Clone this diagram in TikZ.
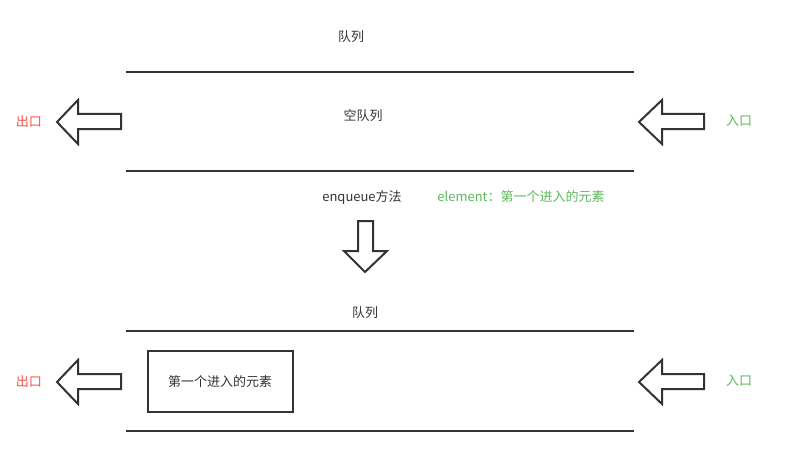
\documentclass[tikz,border=0pt]{standalone}
\usepackage{fontspec}
\setmainfont{Noto Sans CJK SC}
\definecolor{ink}{HTML}{333333}
\definecolor{outred}{HTML}{F5524C}
\definecolor{ingreen}{HTML}{5CB85C}
\begin{document}
\begin{tikzpicture}[x=1pt,y=-1pt,
  lbl/.style={font=\fontsize{13}{15}\selectfont, text=ink, inner sep=0pt},
  redlbl/.style={lbl, text=outred},
  greenlbl/.style={lbl, text=ingreen},
  rail/.style={draw=ink, line width=2pt},
  blockarrow/.style={draw=ink, line width=2pt, line join=miter, fill=white},
  elembox/.style={draw=ink, line width=2pt, minimum width=145pt, minimum height=61pt, inner sep=0pt, font=\fontsize{13}{15}\selectfont, text=ink}]
\useasboundingbox (0,0) rectangle (796,460);
% top queue
\node[lbl] (t1) at (351,37) {队列};
\coordinate (r1a) at (126,72); \coordinate (r1b) at (634,72);
\coordinate (r2a) at (126,171); \coordinate (r2b) at (634,171);
\draw[rail] (r1a) -- (r1b);
\draw[rail] (r2a) -- (r2b);
\node[lbl] (empty) at (363,116) {空队列};
\node[redlbl] (out1) at (29,122) {出口};
\node[greenlbl] (in1) at (739,121) {入口};
\draw[blockarrow] (57,122) -- (78,100) -- (78,114) -- (121,114) -- (121,129) -- (78,129) -- (78,144) -- cycle;
\draw[blockarrow] (639,122) -- (662,100) -- (662,114) -- (704,114) -- (704,129) -- (662,129) -- (662,144) -- cycle;
% middle
\node[lbl] (enq) at (362,197) {enqueue方法};
\node[greenlbl] (elem) at (521,197) {element：第一个进入的元素};
\draw[blockarrow] (358,221) -- (373,221) -- (373,251) -- (387,251) -- (365,272) -- (344,251) -- (358,251) -- cycle;
% bottom queue
\node[lbl] (t2) at (365,313) {队列};
\coordinate (r3a) at (126,331); \coordinate (r3b) at (634,331);
\coordinate (r4a) at (126,431); \coordinate (r4b) at (634,431);
\draw[rail] (r3a) -- (r3b);
\draw[rail] (r4a) -- (r4b);
\node[elembox] (box) at (220,381.5) {第一个进入的元素};
\node[redlbl] (out2) at (29,382) {出口};
\node[greenlbl] (in2) at (739,381) {入口};
\draw[blockarrow] (57,382) -- (78,360) -- (78,374) -- (121,374) -- (121,389) -- (78,389) -- (78,404) -- cycle;
\draw[blockarrow] (639,382) -- (662,360) -- (662,374) -- (704,374) -- (704,389) -- (662,389) -- (662,404) -- cycle;
\end{tikzpicture}
\end{document}
